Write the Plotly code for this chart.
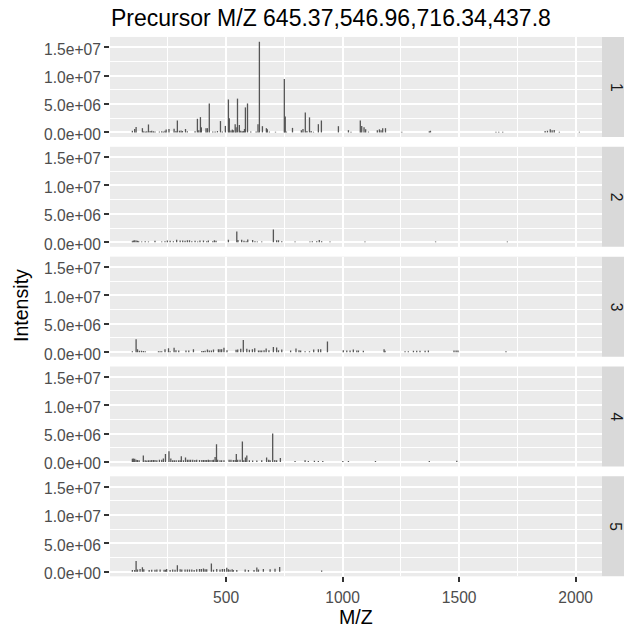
import plotly.graph_objects as go

# ---------------- data (m/z, intensity in units of 1e6) ----------------
title_text = "Precursor M/Z 645.37,546.96,716.34,437.8"
facet_labels = ["1", "2", "3", "4", "5"]

mz1 = [98,108,114,141,147,154,160,167,174,181,188,195,214,224,231,238,243,255,277,285,291,300,307,313,326,334,367,377,383,390,394,414,420,428,443,453,463,476,484,497,510,514,521,527,531,539,543,549,557,563,569,574,579,583,592,606,629,637,643,656,673,677,686,712,750,754,759,785,823,830,840,847,858,865,875,896,909,982,1025,1036,1076,1082,1092,1099,1111,1149,1158,1165,1172,1184,1254,1372,1377,1658,1670,1687,1869,1879,1891,1899,1908,1930,2016]
int1 = [0.29,0.6,0.95,0.75,0.2,0.15,0.2,1.4,0.25,0.3,0.2,0.15,0.15,0.2,0.15,0.3,0.5,0.6,0.65,0.25,2.1,0.3,0.35,0.25,0.6,0.2,0.2,2.4,0.4,2.7,0.9,0.75,0.75,5.1,0.15,0.15,0.25,2.0,0.15,1.15,5.8,2.5,0.35,0.5,0.4,1.45,0.9,5.95,1.3,0.3,0.2,0.25,0.6,4.4,5.1,0.15,0.15,1.45,15.95,1.1,0.75,0.55,0.15,0.12,9.4,2.8,0.15,0.8,0.4,0.6,3.5,0.25,2.65,0.25,0.12,1.45,2.1,1.1,0.4,0.12,2.1,1.15,0.9,0.55,0.15,0.4,0.55,0.4,0.75,0.75,0.12,0.2,0.3,0.12,0.12,0.12,0.25,0.3,0.55,0.4,0.45,0.12,0.12]

mz2 = [98,102,108,114,120,125,138,153,167,195,224,238,248,260,274,288,303,314,324,334,343,353,367,378,388,403,417,424,443,450,457,510,546,551,567,577,586,593,614,624,634,653,703,717,725,739,796,860,870,889,900,910,946,1096,1399,1707]
int2 = [0.2,0.3,0.35,0.3,0.25,0.2,0.15,0.2,0.15,0.25,0.15,0.2,0.3,0.25,0.2,0.46,0.3,0.3,0.25,0.35,0.35,0.2,0.25,0.15,0.3,0.3,0.2,0.3,0.2,0.35,0.25,0.46,1.9,0.4,0.45,0.25,0.2,0.5,0.4,0.2,0.15,0.15,2.25,0.35,0.35,0.2,0.15,0.15,0.2,0.2,0.4,0.2,0.15,0.15,0.15,0.15]

mz3 = [98,114,120,128,137,145,153,210,217,224,238,253,260,277,285,297,328,340,360,396,403,410,420,428,437,446,467,474,481,491,504,543,550,563,574,589,600,613,623,639,646,653,663,672,684,703,717,725,739,777,800,813,820,839,858,876,896,906,935,1003,1018,1032,1046,1061,1068,1089,1178,1182,1268,1282,1304,1318,1332,1354,1368,1478,1487,1495,1701]
int3 = [0.17,2.25,0.5,0.25,0.25,0.2,0.15,0.15,0.15,0.15,0.5,0.7,0.15,0.75,0.35,0.3,0.3,0.3,0.5,0.2,0.2,0.25,0.45,0.3,0.3,0.45,0.5,0.5,0.5,0.75,0.35,0.4,0.45,0.6,2.15,0.6,0.4,0.5,0.7,0.3,0.3,0.3,0.35,0.65,0.35,0.9,0.8,0.35,0.45,0.3,0.65,0.35,0.3,0.17,0.17,0.45,0.5,0.5,1.85,0.35,0.3,0.3,0.45,0.3,0.3,0.25,0.5,0.25,0.17,0.17,0.25,0.25,0.25,0.25,0.3,0.3,0.3,0.3,0.17]

mz4 = [98,102,108,114,120,127,145,153,160,167,174,181,188,195,203,214,224,231,240,255,263,271,278,286,296,303,308,317,326,334,341,348,357,366,374,386,396,403,410,417,424,431,440,446,453,459,464,474,481,491,513,521,531,539,544,550,560,570,576,583,589,600,614,632,653,674,683,689,700,709,717,733,796,839,853,879,896,915,1001,1025,1141,1372,1490]
int4 = [0.55,0.6,0.58,0.4,0.35,0.3,1.15,0.3,0.25,0.3,0.3,0.35,0.35,0.35,0.3,0.4,0.4,0.6,1.4,1.9,0.6,0.3,0.3,0.3,0.3,0.3,1.0,0.3,0.8,0.4,0.4,0.4,0.4,0.35,0.4,0.35,0.35,0.35,0.35,0.35,0.4,0.35,0.35,0.4,0.87,3.1,0.4,0.3,0.3,0.3,0.4,0.4,0.35,0.35,1.4,0.4,0.4,3.6,0.3,0.8,1.15,0.3,0.25,0.25,0.3,0.8,0.4,0.3,5.0,0.35,0.3,0.7,0.17,0.3,0.17,0.23,0.17,0.17,0.17,0.17,0.17,0.17,0.23]

mz5 = [98,108,114,120,131,141,147,170,181,195,203,217,234,240,245,260,271,281,291,303,310,324,334,343,353,363,374,386,394,403,410,417,437,446,460,474,484,493,503,510,517,526,531,546,582,596,620,632,639,660,689,710,730,910]
int5 = [0.3,0.3,1.9,0.4,0.5,0.8,0.45,0.3,0.35,0.35,0.4,0.4,0.35,0.35,0.5,0.3,0.4,0.35,1.15,0.45,0.4,0.4,0.4,0.4,0.4,0.3,0.45,0.5,0.5,0.6,0.45,0.45,1.45,0.35,0.5,0.4,0.5,0.5,0.7,0.45,0.35,0.45,0.3,0.3,0.4,0.3,0.3,0.75,0.4,0.5,0.45,0.55,0.87,0.23]

panels_mz = [mz1, mz2, mz3, mz4, mz5]
panels_int = [int1, int2, int3, int4, int5]

x_tickvals = [500, 1000, 1500, 2000]
x_ticktext = ["500", "1000", "1500", "2000"]
y_tickvals = [0, 5e6, 1e7, 1.5e7]
y_ticktext = ["0.0e+00", "5.0e+06", "1.0e+07", "1.5e+07"]

# ---------------- layout geometry (pixels) ----------------
W, H = 624, 631
PX0, PX1 = 110, 602
STRIP_X1 = 624
TOP0, PERIOD, PH = 37.3, 110.9, 101.0
XRANGE = [2, 2113]
YRANGE = [-0.8e6, 16.8e6]

def fx(px):
    return px / W

def fy(py):
    return 1 - py / H

BAR = "#555555"
TICKFONT = dict(family="Liberation Sans, Arial, sans-serif", size=15.6, color="#4D4D4D")

fig = go.Figure()
layout = dict(
    width=W, height=H,
    margin=dict(l=0, r=0, t=0, b=0),
    paper_bgcolor="white", plot_bgcolor="#EBEBEB",
    showlegend=False,
    font=dict(family="Liberation Sans, Arial, sans-serif"),
)

shapes = []
annotations = []
for i in range(5):
    n = i + 1
    xs, ys = [], []
    for m, v in zip(panels_mz[i], panels_int[i]):
        xs += [m, m, None]
        ys += [0, v * 1e6, None]
    fig.add_trace(go.Scatter(
        x=xs, y=ys, mode="lines",
        line=dict(color=BAR, width=1.3),
        xaxis="x" if n == 1 else f"x{n}",
        yaxis="y" if n == 1 else f"y{n}",
        hoverinfo="skip",
    ))
    top = TOP0 + i * PERIOD
    bot = top + PH
    bottom = (n == 5)
    xa = dict(
        domain=[fx(PX0), fx(PX1)], range=XRANGE,
        anchor="y" if n == 1 else f"y{n}",
        tickmode="array", tickvals=x_tickvals, ticktext=x_ticktext,
        showgrid=True, gridcolor="white", gridwidth=2.2,
        zeroline=False, showline=False,
        minor=dict(tickmode="array", tickvals=[250, 750, 1250, 1750],
                   showgrid=True, gridcolor="white", gridwidth=1.1, ticks=""),
        showticklabels=bottom,
        ticks="outside" if bottom else "",
        ticklen=5, tickwidth=1.8, tickcolor="#333333",
        tickfont=TICKFONT, ticklabelstandoff=2,
    )
    if n != 1:
        xa["matches"] = "x"
    ya = dict(
        domain=[fy(bot), fy(top)], range=YRANGE,
        anchor="x" if n == 1 else f"x{n}",
        tickmode="array", tickvals=y_tickvals, ticktext=y_ticktext,
        showgrid=True, gridcolor="white", gridwidth=2.2,
        zeroline=False, showline=False,
        minor=dict(tickmode="array", tickvals=[2.5e6, 7.5e6, 1.25e7],
                   showgrid=True, gridcolor="white", gridwidth=1.1, ticks=""),
        ticks="outside", ticklen=5, tickwidth=1.8, tickcolor="#333333",
        tickfont=TICKFONT, ticklabelshift=2,
    )
    layout["xaxis" if n == 1 else f"xaxis{n}"] = xa
    layout["yaxis" if n == 1 else f"yaxis{n}"] = ya

    shapes.append(dict(type="rect", xref="paper", yref="paper",
                       x0=fx(PX1), x1=fx(STRIP_X1), y0=fy(bot), y1=fy(top),
                       fillcolor="#D9D9D9", line=dict(width=0), layer="below"))
    annotations.append(dict(text=facet_labels[i], xref="paper", yref="paper",
                            x=fx(616), y=fy((top + bot) / 2), showarrow=False,
                            textangle=90, xanchor="center", yanchor="middle",
                            font=dict(size=15.6, color="#1A1A1A")))

annotations.append(dict(text=title_text, xref="paper", yref="paper",
                        x=fx(PX0 - 1), y=fy(18), xanchor="left", yanchor="middle",
                        showarrow=False, font=dict(size=23, color="black")))
annotations.append(dict(text="M/Z", xref="paper", yref="paper",
                        x=fx((PX0 + PX1) / 2), y=fy(623), xanchor="center", yanchor="middle",
                        showarrow=False, font=dict(size=19.6, color="black")))
annotations.append(dict(text="Intensity", xref="paper", yref="paper",
                        x=fx(21), y=fy(309), xanchor="center", yanchor="middle",
                        textangle=-90, showarrow=False, font=dict(size=19.6, color="black")))

layout["shapes"] = shapes
layout["annotations"] = annotations
fig.update_layout(**layout)
fig.write_html("out.html")
